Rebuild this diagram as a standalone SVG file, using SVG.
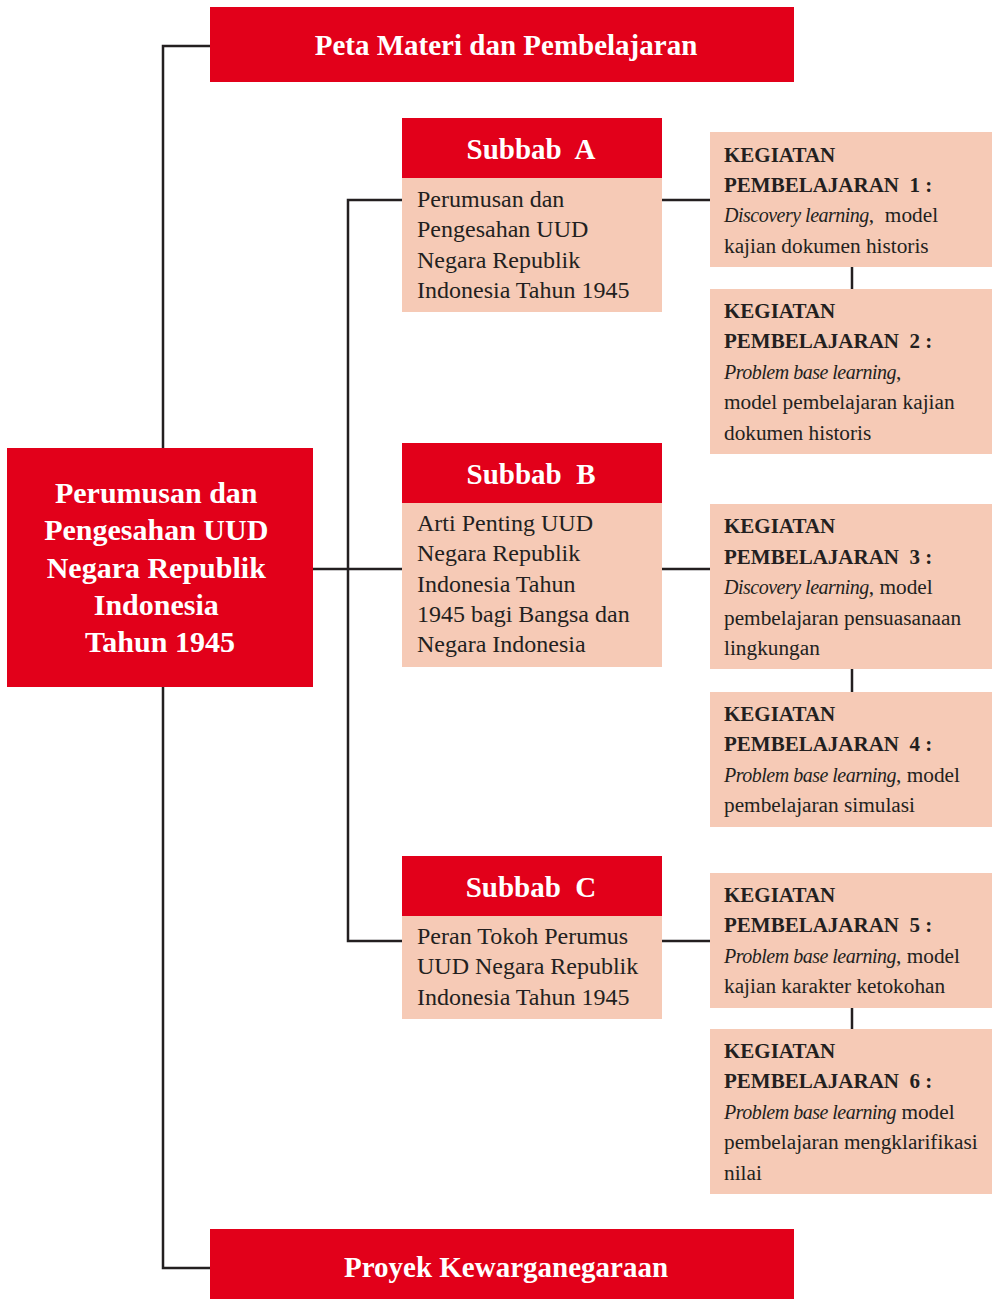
<svg xmlns="http://www.w3.org/2000/svg" width="992" height="1299" viewBox="0 0 992 1299">
<style>
.red{fill:#E2001A}
.pink{fill:#F6CAB6}
.ttl{font-family:"Liberation Serif",serif;font-weight:bold;fill:#fff;text-anchor:middle}
.body{font-family:"Liberation Serif",serif;font-size:24px;fill:#231F20}
.keg{font-family:"Liberation Serif",serif;font-size:21.3px;fill:#231F20}
.b{font-weight:bold;font-size:21px}
.i{font-style:italic;font-size:20px;letter-spacing:-0.5px}
.conn{fill:none;stroke:#231F20;stroke-width:2.5}
</style>
<rect width="992" height="1299" fill="#fff"/>
<g id="connectors">
<polyline class="conn" points="210,46 163,46 163,448"/>
<polyline class="conn" points="163,687 163,1268 210,1268"/>
<line class="conn" x1="313" y1="569" x2="402" y2="569"/>
<polyline class="conn" points="402,200 348,200 348,941 402,941"/>
<line class="conn" x1="662" y1="200" x2="710" y2="200"/>
<line class="conn" x1="662" y1="569" x2="710" y2="569"/>
<line class="conn" x1="662" y1="941" x2="710" y2="941"/>
<line class="conn" x1="852" y1="267" x2="852" y2="289"/>
<line class="conn" x1="852" y1="669" x2="852" y2="692"/>
<line class="conn" x1="852" y1="1008" x2="852" y2="1029"/>
</g>
<g id="header-top">
<rect class="red" x="210" y="7" width="584" height="75"/>
<text class="ttl" x="506" y="55" font-size="29">Peta Materi dan Pembelajaran</text>
</g>
<g id="main">
<rect class="red" x="7" y="448" width="306" height="239"/>
<text class="ttl" font-size="30">
<tspan x="160" y="503">Perumusan dan</tspan>
<tspan x="160" y="540">Pengesahan UUD</tspan>
<tspan x="160" y="578">Negara Republik</tspan>
<tspan x="160" y="615">Indonesia</tspan>
<tspan x="160" y="652">Tahun 1945</tspan>
</text>
</g>
<g id="subbab-a">
<rect class="red" x="402" y="118" width="260" height="60"/>
<rect class="pink" x="402" y="178" width="260" height="134"/>
<text class="ttl" x="531" y="159" font-size="29" xml:space="preserve">Subbab  A</text>
<text class="body">
<tspan x="417" y="207">Perumusan dan</tspan>
<tspan x="417" y="237">Pengesahan UUD</tspan>
<tspan x="417" y="268">Negara Republik</tspan>
<tspan x="417" y="298">Indonesia Tahun 1945</tspan>
</text>
</g>
<g id="subbab-b">
<rect class="red" x="402" y="443" width="260" height="60"/>
<rect class="pink" x="402" y="503" width="260" height="164"/>
<text class="ttl" x="531" y="484" font-size="29" xml:space="preserve">Subbab  B</text>
<text class="body">
<tspan x="417" y="531">Arti Penting UUD</tspan>
<tspan x="417" y="561">Negara Republik</tspan>
<tspan x="417" y="592">Indonesia Tahun</tspan>
<tspan x="417" y="622">1945 bagi Bangsa dan</tspan>
<tspan x="417" y="652">Negara Indonesia</tspan>
</text>
</g>
<g id="subbab-c">
<rect class="red" x="402" y="856" width="260" height="60"/>
<rect class="pink" x="402" y="916" width="260" height="103"/>
<text class="ttl" x="531" y="897" font-size="29" xml:space="preserve">Subbab  C</text>
<text class="body">
<tspan x="417" y="944">Peran Tokoh Perumus</tspan>
<tspan x="417" y="974">UUD Negara Republik</tspan>
<tspan x="417" y="1005">Indonesia Tahun 1945</tspan>
</text>
</g>
<g id="kegiatan-1">
<rect class="pink" x="710" y="132" width="282" height="135"/>
<text class="keg" xml:space="preserve"><tspan class="b" x="724" y="162">KEGIATAN</tspan><tspan class="b" x="724" y="192">PEMBELAJARAN  1 :</tspan><tspan x="724" y="222"><tspan class="i">Discovery learning</tspan>,  model</tspan><tspan x="724" y="253">kajian dokumen historis</tspan></text>
</g>
<g id="kegiatan-2">
<rect class="pink" x="710" y="289" width="282" height="165"/>
<text class="keg" xml:space="preserve"><tspan class="b" x="724" y="318">KEGIATAN</tspan><tspan class="b" x="724" y="348">PEMBELAJARAN  2 :</tspan><tspan x="724" y="379"><tspan class="i">Problem base learning</tspan>,</tspan><tspan x="724" y="409">model pembelajaran kajian</tspan><tspan x="724" y="440">dokumen historis</tspan></text>
</g>
<g id="kegiatan-3">
<rect class="pink" x="710" y="504" width="282" height="165"/>
<text class="keg" xml:space="preserve"><tspan class="b" x="724" y="533">KEGIATAN</tspan><tspan class="b" x="724" y="564">PEMBELAJARAN  3 :</tspan><tspan x="724" y="594"><tspan class="i">Discovery learning</tspan>, model</tspan><tspan x="724" y="625">pembelajaran pensuasanaan</tspan><tspan x="724" y="655">lingkungan</tspan></text>
</g>
<g id="kegiatan-4">
<rect class="pink" x="710" y="692" width="282" height="135"/>
<text class="keg" xml:space="preserve"><tspan class="b" x="724" y="721">KEGIATAN</tspan><tspan class="b" x="724" y="751">PEMBELAJARAN  4 :</tspan><tspan x="724" y="782"><tspan class="i">Problem base learning</tspan>, model</tspan><tspan x="724" y="812">pembelajaran simulasi</tspan></text>
</g>
<g id="kegiatan-5">
<rect class="pink" x="710" y="873" width="282" height="135"/>
<text class="keg" xml:space="preserve"><tspan class="b" x="724" y="902">KEGIATAN</tspan><tspan class="b" x="724" y="932">PEMBELAJARAN  5 :</tspan><tspan x="724" y="963"><tspan class="i">Problem base learning</tspan>, model</tspan><tspan x="724" y="993">kajian karakter ketokohan</tspan></text>
</g>
<g id="kegiatan-6">
<rect class="pink" x="710" y="1029" width="282" height="165"/>
<text class="keg" xml:space="preserve"><tspan class="b" x="724" y="1058">KEGIATAN</tspan><tspan class="b" x="724" y="1088">PEMBELAJARAN  6 :</tspan><tspan x="724" y="1119"><tspan class="i">Problem base learning</tspan> model</tspan><tspan x="724" y="1149">pembelajaran mengklarifikasi</tspan><tspan x="724" y="1180">nilai</tspan></text>
</g>
<g id="header-bottom">
<rect class="red" x="210" y="1229" width="584" height="70"/>
<text class="ttl" x="506" y="1277" font-size="29">Proyek Kewarganegaraan</text>
</g>
</svg>
